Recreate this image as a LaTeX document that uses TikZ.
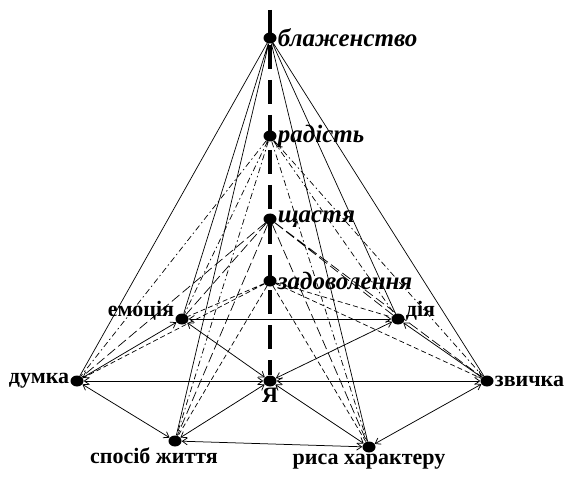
\documentclass[tikz,border=0pt]{standalone}
\usepackage{fontspec}
\setmainfont{Liberation Serif}
\usetikzlibrary{calc}
\usetikzlibrary{arrows.meta}
\usetikzlibrary{shapes.geometric}

\begin{document}
\begin{tikzpicture}[x=1pt,y=1pt,
    dot/.style={ellipse,fill,inner sep=0pt,minimum width=13pt,minimum height=11pt},
    upper/.style={font=\fontsize{25}{27}\selectfont\bfseries\itshape,inner sep=1pt},
    lower/.style={font=\fontsize{22}{24}\selectfont\bfseries,inner sep=1pt},
    link/.style={line width=0.75pt,{Straight Barb[length=5pt,width=7pt]}-{Straight Barb[length=5pt,width=7pt]}},
    ray/.style={line width=0.7pt}]
  \useasboundingbox (0,0) rectangle (572,477);

  % axis and top nodes
  \coordinate (top) at (270,467);
  \node[dot] (bl) at (270,439) {};
  \node[dot] (rad) at (270,341) {};
  \node[dot] (shch) at (270,258) {};
  \node[dot] (zad) at (270,196) {};

  % lower level
  \node[dot] (emo) at (182,158) {};
  \node[dot] (dia) at (398,158) {};
  \node[dot] (dum) at (77,96) {};
  \node[dot] (ya) at (270,96) {};
  \node[dot] (zvy) at (487,96) {};
  \node[dot] (sposib) at (175,36) {};
  \node[dot] (rysa) at (369,30) {};

  \draw[line width=3.5pt,dash pattern=on 24pt off 11pt] (top) -- (ya.north);

  \draw[ray] (bl) -- (dum) (bl) -- (emo) (bl) -- (sposib)
             (bl) -- (rysa) (bl) -- (dia) (bl) -- (zvy);
  \draw[ray,dash pattern=on 6pt off 3pt on 1.5pt off 3pt]
             (rad) -- (dum) (rad) -- (emo) (rad) -- (sposib)
             (rad) -- (rysa) (rad) -- (dia) (rad) -- (zvy);
  \draw[ray,dash pattern=on 10pt off 4pt]
             (shch) -- (dum) (shch) -- (emo) (shch) -- (sposib)
             (shch) -- (rysa) (shch) -- (dia) (shch) -- (zvy);
  \draw[ray,dash pattern=on 5pt off 3pt]
             (zad) -- (dum) (zad) -- (emo) (zad) -- (sposib)
             (zad) -- (rysa) (zad) -- (dia) (zad) -- (zvy);

  % arrows between the lower nodes
  \draw[link] (emo) -- (dia);
  \draw[link] (dum) -- (emo);
  \draw[link] (dia) -- (zvy);
  \draw[link] (dum) -- (sposib);
  \draw[link] (sposib) -- (rysa);
  \draw[link] (rysa) -- (zvy);
  \draw[link] (ya) -- (dum);
  \draw[link] (ya) -- (zvy);
  \draw[link] (ya) -- (emo);
  \draw[link] (ya) -- (dia);
  \draw[link] (ya) -- (sposib);
  \draw[link] (ya) -- (rysa);

  % labels
  \node[upper,anchor=west] (lbl) at (bl.east) {блаженство};
  \node[upper,anchor=west] (lrad) at (rad.east) {радість};
  \node[upper,anchor=west] (lshch) at (shch.east) {щастя};
  \node[upper,anchor=west] (lzad) at (zad.east) {задоволення};

  \node[lower,anchor=base east] (lemo) at ($ (emo.west)+(0,3) $) {емоція};
  \node[lower,anchor=base west] (ldia) at ($ (dia.east)+(0,3) $) {дія};
  \node[lower,anchor=east] (ldum) at (dum.west) {думка};
  \node[lower,anchor=west] (lzvy) at (zvy.east) {звичка};
  \node[lower,anchor=north] (lya) at (ya.south) {Я};
  \node[lower,anchor=north] (lsposib) at ($ (sposib.south)+(-21,0) $) {спосіб життя};
  \node[lower,anchor=north] (lrysa) at (rysa.south) {риса характеру};

\end{tikzpicture}
\end{document}
